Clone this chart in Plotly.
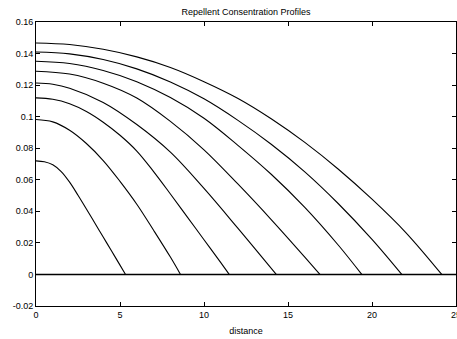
import plotly.graph_objects as go

# distance samples and concentration readings for each profile
c1_x = [0, 2, 4, 6, 8, 10, 12, 14, 16, 18, 20, 22, 24.15]
c1_y = [0.1467, 0.1457, 0.1427, 0.1379, 0.1312, 0.1222, 0.1117, 0.0987, 0.0837, 0.0667, 0.0477, 0.0267, 0.0]

c2_x = [0, 2, 4, 6, 8, 10, 12, 14, 16, 18, 20, 21.77]
c2_y = [0.1410, 0.1398, 0.1362, 0.1303, 0.1220, 0.1113, 0.0978, 0.0825, 0.0650, 0.0448, 0.0222, 0.0]

c3_x = [0, 2, 4, 6, 8, 10, 12, 14, 16, 18, 19.39]
c3_y = [0.1351, 0.1337, 0.1293, 0.1222, 0.1121, 0.0990, 0.0820, 0.0635, 0.0425, 0.0185, 0.0]

c4_x = [0, 2, 4, 6, 8, 10, 12, 14, 16, 16.9]
c4_y = [0.1288, 0.1270, 0.1212, 0.1118, 0.0970, 0.0790, 0.0575, 0.0348, 0.0110, 0.0]

c5_x = [0, 1, 2, 4, 6, 8, 10, 12, 14.3]
c5_y = [0.1213, 0.1205, 0.1180, 0.1090, 0.0950, 0.0775, 0.0545, 0.0295, 0.0]

c6_x = [0, 1, 2, 3, 4, 5, 6, 7, 8, 9, 10, 11, 11.5]
c6_y = [0.1119, 0.1110, 0.1082, 0.1033, 0.0965, 0.0882, 0.0782, 0.0652, 0.0510, 0.0365, 0.0220, 0.0075, 0.0]

c7_x = [0, 1, 2, 3, 4, 5, 6, 7, 8, 8.6]
c7_y = [0.0982, 0.0967, 0.0914, 0.0830, 0.0722, 0.0590, 0.0445, 0.0280, 0.0110, 0.0]

c8_x = [0, 0.5, 1, 1.5, 2, 2.5, 3, 3.5, 4, 4.5, 5, 5.33]
c8_y = [0.0720, 0.0714, 0.0695, 0.0652, 0.0585, 0.0502, 0.0415, 0.0326, 0.0237, 0.0148, 0.0059, 0.0]

c0_x = [0, 25]
c0_y = [0.0, 0.0]

series = [
    (c0_x, c0_y), (c8_x, c8_y), (c7_x, c7_y), (c6_x, c6_y), (c5_x, c5_y),
    (c4_x, c4_y), (c3_x, c3_y), (c2_x, c2_y), (c1_x, c1_y),
]

x_ticks = [0, 5, 10, 15, 20, 25]
x_tick_text = ["0", "5", "10", "15", "20", "25"]
y_ticks = [-0.02, 0, 0.02, 0.04, 0.06, 0.08, 0.1, 0.12, 0.14, 0.16]
y_tick_text = ["-0.02", "0", "0.02", "0.04", "0.06", "0.08", "0.1", "0.12", "0.14", "0.16"]

FONT = "Liberation Sans, Arial, Helvetica, sans-serif"

fig = go.Figure()
for i, (xs, ys) in enumerate(series):
    fig.add_trace(go.Scatter(
        x=xs, y=ys, mode="lines",
        line=dict(color="black", width=1.4 if i == 0 else 1.1,
                  shape="linear" if i == 0 else "spline", smoothing=1.0),
        showlegend=False, hoverinfo="skip", cliponaxis=False,
    ))

fig.update_layout(
    width=457, height=339,
    margin=dict(l=36, r=1, t=22, b=33, autoexpand=False),
    paper_bgcolor="white", plot_bgcolor="white",
    font=dict(family=FONT, size=9, color="black"),
    title=dict(text="Repellent Consentration Profiles", x=246 / 457,
               xanchor="center", y=1 - 12 / 339, yanchor="middle",
               font=dict(family=FONT, size=9, color="black")),
    showlegend=False,
)
fig.update_xaxes(
    range=[0, 25], tickvals=x_ticks, ticktext=x_tick_text,
    showgrid=False, zeroline=False, showline=True, linecolor="black", linewidth=1,
    mirror="allticks", ticks="inside", ticklen=4, tickcolor="black", tickwidth=1,
    ticklabeloverflow="allow", automargin=False,
    title=dict(text="distance", font=dict(family=FONT, size=9), standoff=8),
    tickfont=dict(family=FONT, size=9),
)
fig.update_yaxes(
    range=[-0.02, 0.16], tickvals=y_ticks, ticktext=y_tick_text,
    showgrid=False, zeroline=False, showline=True, linecolor="black", linewidth=1,
    mirror="allticks", ticks="inside", ticklen=4, tickcolor="black", tickwidth=1,
    automargin=False,
    tickfont=dict(family=FONT, size=9),
)

fig.write_html("out.html")
